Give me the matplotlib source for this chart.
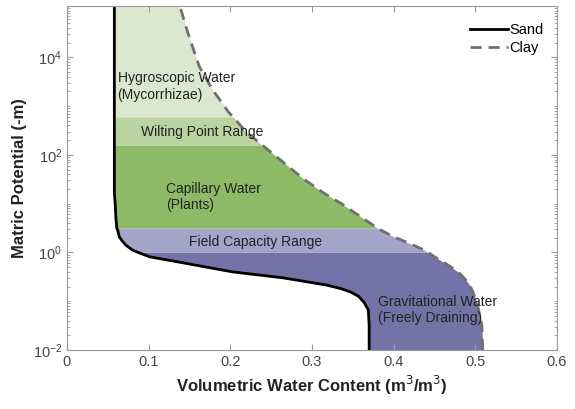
import numpy as np
import matplotlib
matplotlib.use('Agg')
import matplotlib.pyplot as plt
from matplotlib.ticker import LogLocator, FixedLocator, NullFormatter

plt.rcParams['font.family'] = ['Liberation Sans', 'DejaVu Sans']

# matric potential samples (log10 of -m), shared by both curves
log_psi = [-2, -1.5, -1.18, -1.03, -0.9, -0.81, -0.74, -0.67, -0.52, -0.40,
           -0.30, -0.21, -0.09, 0, 0.05, 0.15, 0.25, 0.32, 0.46, 0.5, 0.67,
           1.0, 1.22, 1.5, 1.9, 2.2, 2.46, 2.78, 2.87, 3.34, 3.81, 4.5, 5.06]
sand = [0.370, 0.370, 0.369, 0.364, 0.357, 0.347, 0.335, 0.318, 0.264, 0.203,
        0.170, 0.141, 0.101, 0.087, 0.080, 0.072, 0.067, 0.064, 0.062, 0.061,
        0.060, 0.059, 0.058, 0.058, 0.058, 0.058, 0.058, 0.058, 0.058, 0.058,
        0.058, 0.058, 0.058]
clay = [0.509, 0.508, 0.504, 0.502, 0.499, 0.497, 0.495, 0.493, 0.486, 0.479,
        0.470, 0.462, 0.450, 0.442, 0.437, 0.424, 0.410, 0.400, 0.384, 0.380,
        0.365, 0.336, 0.314, 0.290, 0.261, 0.239, 0.220, 0.203, 0.198, 0.178,
        0.162, 0.148, 0.138]

# water classes: (log10 lower, log10 upper, colour, label, label x, label log10 y)
band_lo = [-2, 0, 0.5, 2.2, 2.78]
band_hi = [0, 0.5, 2.2, 2.78, 5.06]
band_col = ['#7373a8', '#a4a4c9', '#8dba66', '#b9d4a1', '#dbe8cf']
band_txt = ['Gravitational Water\n(Freely Draining)', 'Field Capacity Range',
            'Capillary Water\n(Plants)', 'Wilting Point Range',
            'Hygroscopic Water\n(Mycorrhizae)']
txt_x = [0.381, 0.150, 0.121, 0.091, 0.062]
txt_y = [-1.18, 0.22, 1.13, 2.47, 3.4]

lp = np.array(log_psi)
psi = 10 ** lp

fig = plt.figure(figsize=(5.75, 4.09), dpi=100)
ax = fig.add_axes([0.1165, 0.1443, 0.8522, 0.841])

for lo, hi, c in zip(band_lo, band_hi, band_col):
    m = (lp >= lo) & (lp <= hi)
    ax.fill_betweenx(psi, sand, clay, where=m, color=c, lw=0)

ax.plot(sand, psi, color='black', lw=2, label='Sand')
ax.plot(clay, psi, color='#707070', lw=2, ls=(0, (4, 2.5)), label='Clay')

for t, x, y in zip(band_txt, txt_x, txt_y):
    ax.text(x, 10 ** y, t, fontsize=10, color='#222222', va='center', ha='left',
            linespacing=1.2)

ax.set_yscale('log')
ax.set_xlim(0, 0.6)
ax.set_ylim(1e-2, 10 ** 5.05)
ax.set_xticks([0, 0.1, 0.2, 0.3, 0.4, 0.5, 0.6])
ax.set_xticklabels(['0', '0.1', '0.2', '0.3', '0.4', '0.5', '0.6'])
ax.yaxis.set_major_locator(FixedLocator([1e-2, 1e0, 1e2, 1e4]))
ax.yaxis.set_minor_locator(LogLocator(base=10, subs=np.arange(1, 10), numticks=100))
ax.yaxis.set_minor_formatter(NullFormatter())

for s in ax.spines.values():
    s.set_color('#9a9a9a')
    s.set_linewidth(0.8)
ax.tick_params(which='both', direction='in', top=True, right=True,
               colors='#9a9a9a', labelcolor='#444444', labelsize=10.5)
ax.tick_params(which='major', length=4)
ax.tick_params(which='minor', length=2)

ax.set_xlabel('Volumetric Water Content (m$^3$/m$^3$)', fontsize=12,
              fontweight='bold', color='#222222')
ax.set_ylabel('Matric Potential (-m)', fontsize=12, fontweight='bold',
              color='#222222')

leg = ax.legend(loc='upper right', bbox_to_anchor=(0.994, 0.98), frameon=False,
                fontsize=10.5, handlelength=2.6, handletextpad=0.1,
                borderaxespad=0.3, labelspacing=0.3)

fig.savefig('out.png', dpi=100)
